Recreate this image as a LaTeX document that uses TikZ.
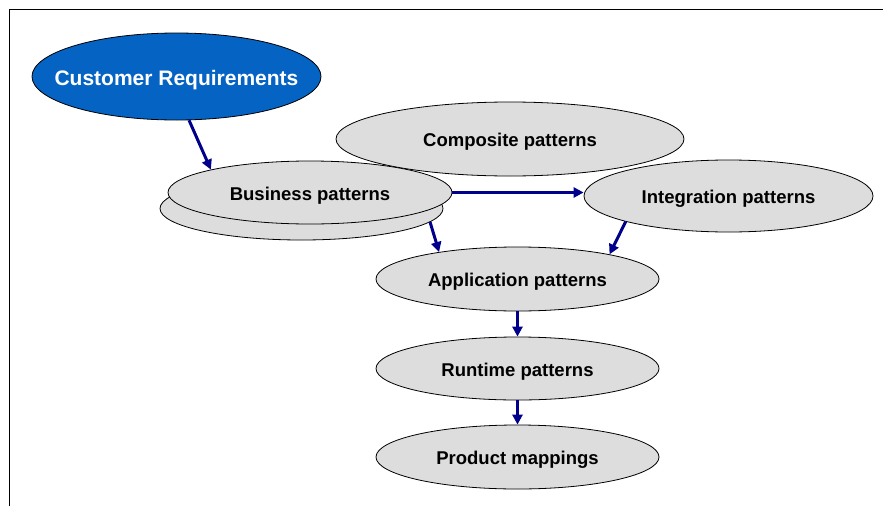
\documentclass[tikz,border=0pt]{standalone}
\usepackage{fontspec}
\setmainfont{Liberation Sans}
\usetikzlibrary{shapes.geometric,arrows.meta}
\definecolor{patgray}{RGB}{221,221,221}
\definecolor{custblue}{RGB}{5,99,196}
\definecolor{arrnavy}{RGB}{0,0,139}
\newcommand\ctrtext[1]{\raisebox{-0.42em}[0pt][0pt]{\makebox[0pt]{#1}}}
\tikzset{
  pat/.style={ellipse, draw=black, line width=0.8pt, fill=patgray, inner sep=0pt,
    font=\fontsize{18.5}{20}\selectfont\bfseries, text=black},
  flow/.style={draw=arrnavy, line width=3pt, -{Triangle[length=10pt,width=10pt]}},
}
\begin{document}
\begin{tikzpicture}[x=1pt,y=-1pt]
\useasboundingbox (0,0) rectangle (883,506);
\draw[line width=1.3pt] (9.5,506) -- (9.5,9.5) -- (883,9.5);
\node[pat, minimum width=348pt, minimum height=74pt] (comp) at (510,139) {\ctrtext{Composite patterns}};
\node[pat, minimum width=283pt, minimum height=63pt] (busb) at (301.5,208.5) {};
\node[pat, minimum width=284pt, minimum height=63pt] (bus) at (310,192.5) {\ctrtext{Business patterns}};
\node[pat, minimum width=289pt, minimum height=72pt] (integ) at (728.5,196) {\ctrtext{Integration patterns}};
\node[pat, minimum width=283pt, minimum height=64pt] (app) at (517.5,279) {\ctrtext{Application patterns}};
\node[pat, minimum width=283pt, minimum height=63pt] (run) at (517.5,368.5) {\ctrtext{Runtime patterns}};
\node[pat, minimum width=283pt, minimum height=64pt] (prod) at (517.5,457) {\ctrtext{Product mappings}};
\node[ellipse, draw=black, line width=0.8pt, fill=custblue, inner sep=0pt,
  minimum width=289pt, minimum height=87pt, text=white,
  font=\fontsize{21}{24}\selectfont\bfseries] (cust) at (176.5,76.5) {\ctrtext{Customer Requirements}};
\draw[flow] (cust.-74) -- (bus.167.3);
\draw[flow] (bus.east) -- (bus.east -| integ.west);
\draw[flow] (busb.-6.4) -- (app.161.9);
\draw[flow] (integ.-166.3) -- (app.15.7);
\draw[flow] (app.south) -- (run.north);
\draw[flow] (run.south) -- (prod.north);
\end{tikzpicture}
\end{document}
